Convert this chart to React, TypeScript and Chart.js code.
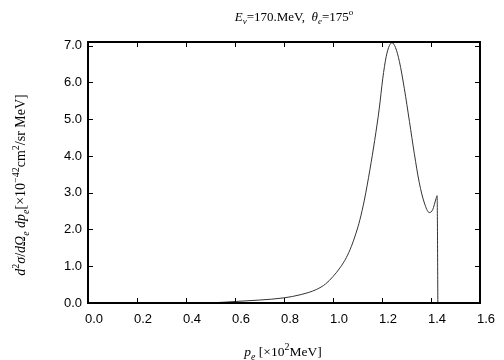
import React, { useEffect, useRef } from "react";
import { Chart, registerables } from "chart.js";
Chart.register(...registerables);

// p_e [x10^2 MeV]
const momentum = [0.49, 0.55, 0.6, 0.7, 0.8, 0.87, 0.933, 0.97, 1.0, 1.03, 1.054, 1.075, 1.094, 1.11, 1.128, 1.151, 1.17, 1.189, 1.203, 1.217, 1.23, 1.241, 1.255, 1.271, 1.291, 1.312, 1.332, 1.352, 1.373, 1.393, 1.407, 1.421, 1.425, 1.428];
// d2sigma/dOmega dp [x10^-42 cm2/sr MeV]
const crossSection = [0.0, 0.02, 0.04, 0.08, 0.14, 0.23, 0.37, 0.52, 0.72, 0.97, 1.23, 1.54, 1.9, 2.27, 2.8, 3.64, 4.42, 5.3, 6.1, 6.7, 7.0, 7.08, 6.95, 6.57, 5.84, 4.94, 4.06, 3.28, 2.72, 2.46, 2.54, 2.85, 2.92, 0.0];
const xTicks = [0, 0.2, 0.4, 0.6, 0.8, 1.0, 1.2, 1.4, 1.6];
const yTicks = [0, 1, 2, 3, 4, 5, 6, 7];

type Run = { t: string; it?: boolean; pos?: "sub" | "sup" };
const titleRuns: Run[] = [
  { t: "E", it: true }, { t: "ν", it: true, pos: "sub" }, { t: "=170.MeV,  " },
  { t: "θ", it: true }, { t: "e", it: true, pos: "sub" }, { t: "=175" }, { t: "o", pos: "sup" },
];
const yLabelRuns: Run[] = [
  { t: "d", it: true }, { t: "2", pos: "sup" }, { t: "σ", it: true }, { t: "/" }, { t: "d", it: true },
  { t: "Ω", it: true }, { t: "e", it: true, pos: "sub" }, { t: " " }, { t: "dp", it: true },
  { t: "e", it: true, pos: "sub" }, { t: "[×10" }, { t: "−42", pos: "sup" }, { t: "cm" },
  { t: "2", pos: "sup" }, { t: "/sr MeV]" },
];
const xLabelRuns: Run[] = [
  { t: "p", it: true }, { t: "e", it: true, pos: "sub" }, { t: " [×10" }, { t: "2", pos: "sup" }, { t: "MeV]" },
];

const SERIF = "'Liberation Serif', 'Times New Roman', serif";
const SANS = "'Liberation Sans', Arial, sans-serif";

function drawRuns(ctx: CanvasRenderingContext2D, runs: Run[], cx: number, cy: number, size: number, rot = 0) {
  const small = Math.round(size * 0.72);
  const fontFor = (r: Run) => `${r.it ? "italic " : ""}${r.pos ? small : size}px ${SERIF}`;
  let total = 0;
  const widths = runs.map((r) => {
    ctx.font = fontFor(r);
    const w = ctx.measureText(r.t).width;
    total += w;
    return w;
  });
  ctx.save();
  ctx.translate(cx, cy);
  ctx.rotate(rot);
  ctx.fillStyle = "#000";
  ctx.textBaseline = "alphabetic";
  ctx.textAlign = "left";
  let x = -total / 2;
  const base = size * 0.35;
  runs.forEach((r, i) => {
    ctx.font = fontFor(r);
    const dy = r.pos === "sub" ? size * 0.3 : r.pos === "sup" ? -size * 0.45 : 0;
    ctx.fillText(r.t, x, base + dy);
    x += widths[i];
  });
  ctx.restore();
}

const framePlugin = {
  id: "frame",
  afterDraw(chart: any) {
    const ctx: CanvasRenderingContext2D = chart.ctx;
    const { left, right, top, bottom } = chart.chartArea;
    const xs = chart.scales.x;
    const ys = chart.scales.y;
    ctx.save();
    ctx.strokeStyle = "#000";
    ctx.lineWidth = 1;
    const tl = 5;
    ctx.beginPath();
    xTicks.forEach((v) => {
      const px = Math.round(xs.getPixelForValue(v)) + 0.5;
      ctx.moveTo(px, bottom);
      ctx.lineTo(px, bottom - tl);
      ctx.moveTo(px, top);
      ctx.lineTo(px, top + tl);
    });
    yTicks.forEach((v) => {
      const py = Math.round(ys.getPixelForValue(v)) + 0.5;
      ctx.moveTo(left, py);
      ctx.lineTo(left + tl, py);
      ctx.moveTo(right, py);
      ctx.lineTo(right - tl, py);
    });
    ctx.stroke();
    ctx.lineWidth = 2;
    ctx.strokeRect(left, top, right - left, bottom - top);
    drawRuns(ctx, titleRuns, 294, 16, 13);
    drawRuns(ctx, xLabelRuns, 283, 351, 13.5);
    drawRuns(ctx, yLabelRuns, 20, 185, 14, -Math.PI / 2);
    ctx.restore();
  },
};

export default function App() {
  const ref = useRef<HTMLCanvasElement>(null);
  useEffect(() => {
    if (!ref.current) return;
    const chart = new Chart(ref.current, {
      type: "line",
      data: {
        datasets: [
          {
            data: momentum.map((x, i) => ({ x, y: crossSection[i] })),
            borderColor: "#333",
            borderWidth: 1,
            pointRadius: 0,
            cubicInterpolationMode: "monotone",
            fill: false,
          },
        ],
      },
      options: {
        responsive: false,
        animation: false,
        events: [],
        layout: { padding: { top: 42, right: 24, left: 0, bottom: 0 } },
        plugins: { legend: { display: false }, tooltip: { enabled: false }, title: { display: false } },
        scales: {
          x: {
            type: "linear",
            min: 0,
            max: 1.6,
            grid: { display: false, drawTicks: false },
            border: { display: false },
            afterBuildTicks: (s: any) => { s.ticks = xTicks.map((value) => ({ value })); },
            afterFit: (s: any) => { s.height = 57; },
            ticks: {
              padding: 9,
              labelOffset: 6,
              color: "#000",
              font: { family: SANS, size: 13 },
              callback: (v: any) => Number(v).toFixed(1),
              maxRotation: 0,
            },
          },
          y: {
            type: "linear",
            min: 0,
            max: 7.1,
            grid: { display: false, drawTicks: false },
            border: { display: false },
            afterBuildTicks: (s: any) => { s.ticks = yTicks.map((value) => ({ value })); },
            afterFit: (s: any) => { s.width = 88; },
            ticks: {
              padding: 6,
              color: "#000",
              font: { family: SANS, size: 13 },
              callback: (v: any) => Number(v).toFixed(1),
            },
          },
        },
      },
      plugins: [framePlugin],
    } as any);
    return () => chart.destroy();
  }, []);
  return (
    <div style={{ position: "absolute", left: 0, top: 0, width: 504, height: 360, background: "#fff" }}>
      <canvas ref={ref} width={504} height={360} style={{ width: 504, height: 360, display: "block" }} />
    </div>
  );
}
